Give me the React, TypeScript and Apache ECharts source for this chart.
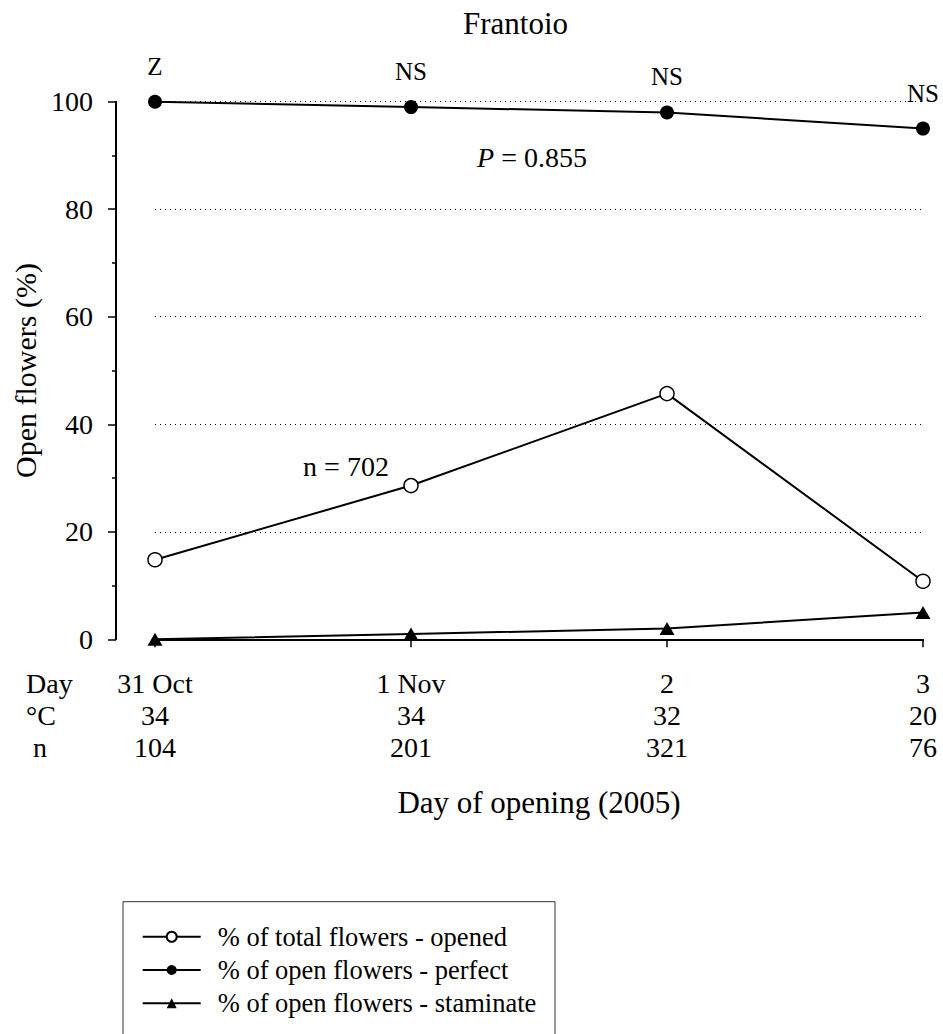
import React, { useEffect, useRef } from 'react';
import * as echarts from 'echarts';

const days = ['31 Oct', '1 Nov', '2', '3'];
const temps = ['34', '34', '32', '20'];
const counts = ['104', '201', '321', '76'];
const openedPct = [14.8, 28.6, 45.7, 10.8];
const perfectPct = [100, 99, 98, 95];
const staminatePct = [0, 1, 2, 5];
const sigLabels = ['Z', 'NS', 'NS', 'NS'];
const yTicks = [0, 20, 40, 60, 80, 100];
const rowHeaders = ['Day', '°C', 'n'];
const seriesNames = [
  '% of total flowers - opened',
  '% of open flowers - perfect',
  '% of open flowers - staminate',
];

const FONT = 'Liberation Serif';

export default function App() {
  const ref = useRef<HTMLDivElement>(null);
  useEffect(() => {
    if (!ref.current) return;
    const chart = echarts.init(ref.current, null, { renderer: 'svg' });
    const lineStyle = { color: '#000', width: 2 };
    const option: any = {
      animation: false,
      title: {
        text: 'Frantoio',
        left: 463,
        top: 8,
        padding: 0,
        textStyle: { fontFamily: FONT, fontSize: 31, fontWeight: 'normal', color: '#000' },
      },
      grid: { left: 155, right: 20, top: 101.7, bottom: 394.7 },
      xAxis: {
        type: 'category',
        data: days,
        boundaryGap: false,
        name: 'Day of opening (2005)',
        nameLocation: 'middle',
        nameGap: 163,
        nameTextStyle: { fontFamily: FONT, fontSize: 31, color: '#000', verticalAlign: 'middle' },
        axisLine: { lineStyle: { color: '#000', width: 2 } },
        axisTick: { show: true, length: 8, lineStyle: { color: '#000', width: 1.5 } },
        axisLabel: {
          margin: 28,
          fontFamily: FONT,
          fontSize: 28,
          lineHeight: 32,
          color: '#000',
          formatter: (v: string, i: number) => `${v}\n${temps[i]}\n${counts[i]}`,
        },
        splitLine: { show: false },
      },
      yAxis: {
        type: 'value',
        min: yTicks[0],
        max: yTicks[yTicks.length - 1],
        interval: yTicks[1] - yTicks[0],
        offset: 39,
        name: 'Open flowers (%)',
        nameLocation: 'middle',
        nameGap: 87,
        nameTextStyle: { fontFamily: FONT, fontSize: 30, color: '#000', verticalAlign: 'middle' },
        axisLine: { show: true, lineStyle: { color: '#000', width: 2 } },
        axisTick: { show: true, length: 8, lineStyle: { color: '#000', width: 1.5 } },
        minorTick: { show: true, splitNumber: 2, length: 4, lineStyle: { color: '#000', width: 1.5 } },
        axisLabel: { margin: 23, fontFamily: FONT, fontSize: 28, color: '#000' },
        splitLine: { show: true, lineStyle: { color: '#000', width: 1, type: [1, 4] } },
      },
      legend: {
        orient: 'vertical',
        left: 141.7,
        top: 921.7,
        padding: 0,
        itemWidth: 58,
        itemHeight: 12.5,
        itemGap: 3.3,
        data: seriesNames,
        textStyle: { fontFamily: FONT, fontSize: 26.5, color: '#000', lineHeight: 30, padding: [0, 0, 0, 12] },
      },
      series: [
        {
          name: seriesNames[0],
          type: 'line',
          data: openedPct,
          symbol: 'circle',
          symbolSize: 14,
          lineStyle,
          itemStyle: { color: '#fff', borderColor: '#000', borderWidth: 1.5 },
          z: 3,
        },
        {
          name: seriesNames[1],
          type: 'line',
          data: perfectPct,
          symbol: 'circle',
          symbolSize: 14,
          lineStyle,
          itemStyle: { color: '#000' },
          label: {
            show: true,
            position: 'top',
            distance: 16,
            fontFamily: FONT,
            fontSize: 25,
            color: '#000',
            formatter: (p: any) => sigLabels[p.dataIndex],
          },
          z: 3,
        },
        {
          name: seriesNames[2],
          type: 'line',
          data: staminatePct,
          symbol: 'triangle',
          symbolSize: [15, 13],
          lineStyle,
          itemStyle: { color: '#000' },
          z: 3,
        },
      ],
      graphic: [
        {
          type: 'rect',
          shape: { x: 123, y: 901.7, width: 432, height: 200 },
          style: { fill: 'none', stroke: '#333', lineWidth: 1 },
          silent: true,
        },
        ...rowHeaders.map((t, i) => ({
          type: 'text',
          x: i === 2 ? 33 : 26,
          y: 683 + i * 32,
          style: {
            text: t,
            fontFamily: FONT,
            fontSize: 28,
            fill: '#000',
            textAlign: 'left',
            textVerticalAlign: 'middle',
          },
        })),
        {
          type: 'text',
          x: 532,
          y: 157,
          style: {
            text: '{i|P} = 0.855',
            fontFamily: FONT,
            fontSize: 28,
            fill: '#000',
            textAlign: 'center',
            textVerticalAlign: 'middle',
            rich: { i: { fontFamily: FONT, fontSize: 28, fontStyle: 'italic', fill: '#000' } },
          },
        },
        {
          type: 'text',
          x: 346,
          y: 466,
          style: {
            text: 'n = 702',
            fontFamily: FONT,
            fontSize: 28,
            fill: '#000',
            textAlign: 'center',
            textVerticalAlign: 'middle',
          },
        },
      ],
    };
    chart.setOption(option);
    return () => chart.dispose();
  }, []);
  return (
    <div
      ref={ref}
      style={{ position: 'fixed', left: 0, top: 0, width: 943, height: 1034, background: '#fff' }}
    />
  );
}
